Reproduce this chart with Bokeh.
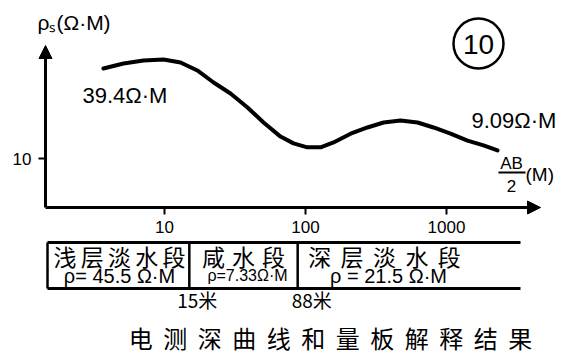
from bokeh.plotting import figure
from bokeh.models import Range1d, FixedTicker, Arrow, NormalHead, LogAxis
from bokeh.core.properties import value
from bokeh.embed import file_html
from bokeh.resources import INLINE

# ---------------- data ----------------
ab2 = [3.69, 5.12, 7.10, 9.84, 13.0, 17.1, 22.3, 29.4, 38.8, 50.4, 66.5, 82.2, 103, 128,
       158, 209, 275, 358, 472, 623, 809, 1068, 1409, 1830, 2300]
rho_s = [43.5, 47.2, 49.5, 50.4, 48.0, 42.1, 34.6, 28.9, 23.0, 18.0, 14.3, 12.8, 12.0, 12.0,
         13.0, 15.0, 16.6, 18.0, 18.6, 18.0, 16.6, 15.0, 13.4, 12.4, 11.4]
x_ticks = [10, 100, 1000]
x_tick_labels = ["10", "100", "1000"]
y_ticks = [10]
y_tick_labels = ["10"]
curve_labels = ["39.4Ω·M", "9.09Ω·M"]
layer_names = ["浅层淡水段", "咸水段", "深层淡水段"]
layer_rho = ["ρ= 45.5 Ω·M", "ρ=7.33Ω·M", "ρ = 21.5 Ω·M"]
boundaries = [15, 88]
boundary_labels = ["15米", "88米"]
y_label = "ρₛ(Ω·M)"
x_label_num, x_label_den, x_label_unit = "AB", "2", "(M)"
curve_no = "10"
title = "电测深曲线和量板解释结果"

LAT = value("Liberation Sans")
CJK = value("Noto Sans CJK SC")

# pixel -> data helpers (layout positions only)
def px2x(px):
    return 10 ** (1 + (px - 164) / 141.0)

def py2y(py):
    return 10 ** (1 + (158 - py) / 141.0)

W, H = 570, 362

p = figure(width=W, height=H, x_axis_type="log", y_axis_type="log",
           x_range=Range1d(px2x(0), px2x(W)), y_range=Range1d(py2y(H), py2y(0)),
           x_axis_location=None, y_axis_location=None,
           output_backend="svg", toolbar_location=None,
           min_border_left=0, min_border_right=0, min_border_top=0, min_border_bottom=0)
p.outline_line_color = None
p.grid.visible = False
p.background_fill_color = "white"
p.border_fill_color = "white"

xaxis = LogAxis(fixed_location=py2y(207), ticker=FixedTicker(ticks=x_ticks),
                bounds=(px2x(45), px2x(536)))
xaxis.major_label_overrides = {t: l for t, l in zip(x_ticks, x_tick_labels)}
xaxis.major_label_standoff = 6
yaxis = LogAxis(fixed_location=px2x(45), ticker=FixedTicker(ticks=y_ticks),
                bounds=(py2y(207), py2y(50)))
yaxis.major_label_overrides = {t: l for t, l in zip(y_ticks, y_tick_labels)}
yaxis.major_label_standoff = 7

for ax in (xaxis, yaxis):
    ax.axis_line_width = 3
    ax.axis_line_color = "black"
    ax.major_tick_line_width = 2
    ax.major_tick_line_color = "black"
    ax.major_tick_in = 0
    ax.major_tick_out = 7
    ax.minor_tick_line_color = None
    ax.major_label_text_font = "Liberation Sans"
    ax.major_label_text_font_size = "17px"
    ax.major_label_text_color = "black"
p.add_layout(xaxis, "below")
p.add_layout(yaxis, "left")

# axis arrows
p.add_layout(Arrow(end=NormalHead(size=13, fill_color="black", line_color="black"),
                   x_start=px2x(520), y_start=py2y(207), x_end=px2x(540), y_end=py2y(207),
                   line_width=3, line_color="black"))
p.add_layout(Arrow(end=NormalHead(size=13, fill_color="black", line_color="black"),
                   x_start=px2x(45), y_start=py2y(70), x_end=px2x(45), y_end=py2y(45),
                   line_width=3, line_color="black"))

# curve
p.line(ab2, rho_s, line_width=4, line_color="black", line_cap="round", line_join="round")

# curve annotations
p.text(x=[px2x(82), px2x(471)], y=[py2y(95), py2y(120)], text=curve_labels,
       text_font=LAT, text_font_size="22px", text_align="left", text_baseline="middle",
       text_color="black")

# y label
p.text(x=[px2x(37)], y=[py2y(22)], text=[y_label], text_font=LAT, text_font_size="21px",
       text_align="left", text_baseline="middle", text_color="black")

# x label as a fraction
p.text(x=[px2x(511)], y=[py2y(163)], text=[x_label_num], text_font=LAT, text_font_size="17px",
       text_align="center", text_baseline="middle", text_color="black")
p.segment(x0=[px2x(498)], y0=[py2y(172)], x1=[px2x(525)], y1=[py2y(172)],
          line_width=2, line_color="black")
p.text(x=[px2x(511)], y=[py2y(185)], text=[x_label_den], text_font=LAT, text_font_size="17px",
       text_align="center", text_baseline="middle", text_color="black")
p.text(x=[px2x(525)], y=[py2y(174)], text=[x_label_unit], text_font=LAT, text_font_size="19px",
       text_align="left", text_baseline="middle", text_color="black")

# circled number
p.scatter(x=[px2x(478)], y=[py2y(43)], marker="circle", size=50, fill_color=None,
          line_color="black", line_width=2.5)
p.text(x=[px2x(478)], y=[py2y(44)], text=[curve_no], text_font=LAT, text_font_size="28px",
       text_align="center", text_baseline="middle", text_color="black")

# ---------------- interpretation strip ----------------
left_edge, right_edge = px2x(47), px2x(520)
top_y, bot_y = py2y(242), py2y(288)
p.segment(x0=[left_edge, left_edge], y0=[top_y, bot_y], x1=[right_edge, right_edge], y1=[top_y, bot_y],
          line_width=3, line_color="black")
p.segment(x0=[left_edge] + boundaries, y0=[top_y] * 3, x1=[left_edge] + boundaries, y1=[bot_y] * 3,
          line_width=2.5, line_color="black")

def spread(s, a, b):
    n = len(s)
    step = (b - a) / n
    return [px2x(a + (i + 0.5) * step) for i in range(n)], list(s)

name_spans = [(51, 187), (198, 288), (303, 465)]
for name, (a, b) in zip(layer_names, name_spans):
    xs, chars = spread(name, a, b)
    p.text(x=xs, y=[py2y(255)] * len(chars), text=chars, text_font=CJK, text_font_size="23px",
           text_align="center", text_baseline="middle", text_color="black")

rho_centers = [119, 247, 388]
rho_sizes = ["20px", "16px", "20px"]
for r, c, fs in zip(layer_rho, rho_centers, rho_sizes):
    p.text(x=[px2x(c)], y=[py2y(275)], text=[r], text_font=LAT, text_font_size=fs,
           text_align="center", text_baseline="middle", text_color="black")

p.text(x=boundaries, y=[py2y(299)] * 2, text=boundary_labels, x_offset=[8, 14], text_font=CJK,
       text_font_size="19px", text_align="center", text_baseline="middle", text_color="black")

xs, chars = spread(title, 123, 537)
p.text(x=xs, y=[py2y(337)] * len(chars), text=chars, text_font=CJK, text_font_size="24px",
       text_align="center", text_baseline="middle", text_color="black")

open("out.html", "w").write(file_html(p, INLINE))
